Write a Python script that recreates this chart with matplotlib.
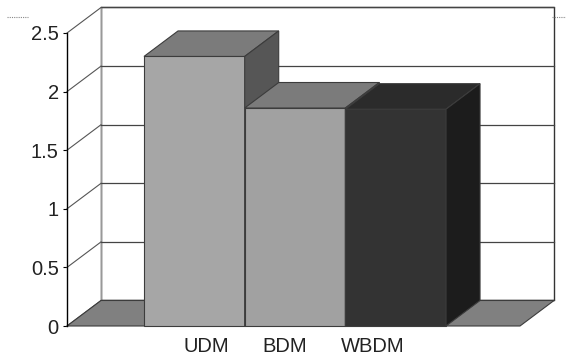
import matplotlib
matplotlib.use("Agg")
import matplotlib.pyplot as plt
from matplotlib.patches import Polygon
from matplotlib.lines import Line2D

# ------------------------------------------------------------
# Data
# ------------------------------------------------------------
categories = ["UDM", "BDM", "WBDM"]
values = [2.30, 1.86, 1.85]
y_ticks = [0, 0.5, 1, 1.5, 2, 2.5]
y_tick_labels = ["0", "0.5", "1", "1.5", "2", "2.5"]

front_colors = ["#a6a6a6", "#a1a1a1", "#333333"]
top_colors = ["#7b7b7b", "#7b7b7b", "#2b2b2b"]
side_colors = ["#565656", "#565656", "#1c1c1c"]

# category label positions along the floor (in bar units)
label_pos = [1.12, 1.90, 2.77]

# ------------------------------------------------------------
# Layout
# ------------------------------------------------------------
W, H = 566, 358
XMIN, XMAX = -0.265, 4.235
YMAX = 2.5
DX, DY = 0.338, 0.2176  # depth offset of the 3D box (data units)
EDGE = "#3c3c3c"

fig = plt.figure(figsize=(W / 100, H / 100), dpi=100)
ax = fig.add_axes([67 / W, 32 / H, 453 / W, 293 / H])
ax.set_xlim(XMIN, XMAX)
ax.set_ylim(0, YMAX)
ax.patch.set_visible(False)
for side in ("top", "right", "bottom"):
    ax.spines[side].set_visible(False)
ax.spines["left"].set_color("black")
ax.spines["left"].set_linewidth(1.0)
ax.spines["left"].set_zorder(10)


def poly(pts, fc, z, ec=EDGE, lw=0.8):
    p = Polygon(pts, closed=True, facecolor=fc, edgecolor=ec, linewidth=lw,
                zorder=z, clip_on=False)
    ax.add_patch(p)


# back wall
poly([(XMIN + DX, DY), (XMAX + DX, DY), (XMAX + DX, YMAX + DY),
      (XMIN + DX, YMAX + DY)], "white", 1, ec="#333333", lw=1.0)
ax.plot([XMIN + DX, XMIN + DX], [DY, YMAX + DY], color="#999999", lw=1.0,
        zorder=2, clip_on=False)

# gridlines on the back wall + diagonals on the side wall
for t in y_ticks:
    ax.plot([XMIN + DX, XMAX + DX], [t + DY, t + DY], color="#444444",
            lw=0.9, zorder=2, clip_on=False)
    ax.plot([XMIN, XMIN + DX], [t, t + DY], color="#555555", lw=0.8,
            zorder=2, clip_on=False)

# floor
poly([(XMIN, 0), (XMAX, 0), (XMAX + DX, DY), (XMIN + DX, DY)], "#808080", 3)

# bars, drawn left to right so each covers the side face of the previous
for i, (v, fc, tc, sc) in enumerate(zip(values, front_colors, top_colors, side_colors)):
    x0, x1 = i + 0.5, i + 1.5
    z = 4 + i
    poly([(x0, 0), (x1, 0), (x1, v), (x0, v)], fc, z)
    poly([(x0, v), (x1, v), (x1 + DX, v + DY), (x0 + DX, v + DY)], tc, z)
    poly([(x1, 0), (x1 + DX, DY), (x1 + DX, v + DY), (x1, v)], sc, z)

# axes ticks and labels
font = ["Liberation Sans", "DejaVu Sans"]
ax.set_yticks(y_ticks)
ax.set_yticklabels(y_tick_labels, fontsize=14.5, family=font, color="#222222")
ax.tick_params(axis="y", length=3, width=0.8, pad=3, colors="black",
               labelcolor="#222222")
ax.set_xticks(label_pos)
ax.set_xticklabels(categories, fontsize=14.5, family=font, color="#222222")
ax.tick_params(axis="x", length=0, pad=8)

# dotted chart-area markers in the top corners
fig.add_artist(Line2D([7 / W, 28 / W], [1 - 17 / H, 1 - 17 / H], color="#888888",
                      lw=0.8, linestyle=(0, (1, 1))))
fig.add_artist(Line2D([552 / W, 566 / W], [1 - 17 / H, 1 - 17 / H], color="#888888",
                      lw=0.8, linestyle=(0, (1, 1))))

fig.savefig("out.png", dpi=100)
